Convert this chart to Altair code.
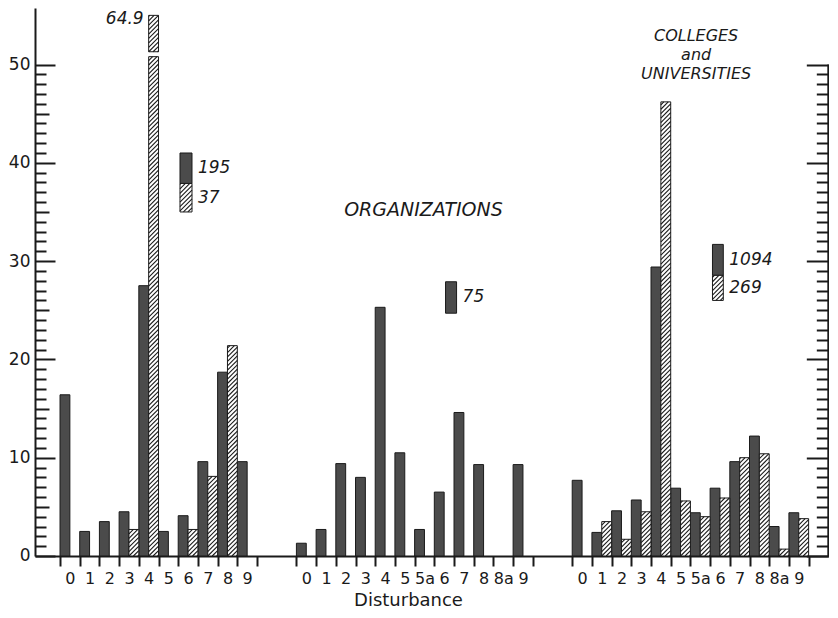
import json
import math
import altair as alt
import pandas as pd

# ---------------- data ----------------
G1_CATS = ["0", "1", "2", "3", "4", "5", "6", "7", "8", "9"]
G1_DARK = [16.4, 2.5, 3.5, 4.5, 27.5, 2.5, 4.1, 9.6, 18.7, 9.6]
G1_HATCH = [None, None, None, 2.7, 64.9, None, 2.7, 8.1, 21.4, None]
G1_N = [195, 37]

ORG_CATS = ["0", "1", "2", "3", "4", "5", "5a", "6", "7", "8", "8a", "9"]
ORG_DARK = [1.3, 2.7, 9.4, 8.0, 25.3, 10.5, 2.7, 6.5, 14.6, 9.3, None, 9.3]
ORG_N = [75]

COL_CATS = ["0", "1", "2", "3", "4", "5", "5a", "6", "7", "8", "8a", "9"]
COL_DARK = [7.7, 2.4, 4.6, 5.7, 29.4, 6.9, 4.4, 6.9, 9.6, 12.2, 3.0, 4.4]
COL_HATCH = [None, 3.5, 1.7, 4.5, 46.2, 5.6, 4.0, 5.9, 10.0, 10.4, 0.7, 3.8]
COL_N = [1094, 269]

ORG_LABEL = "ORGANIZATIONS"
COL_LABEL = "COLLEGES\nand\nUNIVERSITIES"
X_TITLE = "Disturbance"

# ---------------- layout / style constants ----------------
STEP = 19.7          # px per category
PXU = 9.83           # px per y unit
Y_MAX = 55.75
HEIGHT = round(Y_MAX * PXU)
GAP = 2              # empty category slots between groups
PAD_L, PAD_R = 1.27, 1.0
HALF = 0.5
CLIP_TOP = 55.0      # where the broken bar is cut off
BREAK = (50.8, 51.3)
HATCH_GAP = 0.45
K = STEP / PXU       # y units per x unit for 45 degree hatch
INK = "#1a1a1a"
DARK = "#4b4b4b"
FONT = "DejaVu Sans"

GROUPS = [(G1_CATS, G1_DARK, G1_HATCH), (ORG_CATS, ORG_DARK, None), (COL_CATS, COL_DARK, COL_HATCH)]
OFFS = []
_o = 0
for cats, _, _ in GROUPS:
    OFFS.append(_o)
    _o += len(cats) + GAP
X_END = OFFS[-1] + len(GROUPS[-1][0])
X_MIN, X_MAX = -PAD_L, X_END + PAD_R
WIDTH = (X_MAX - X_MIN) * STEP

rows = []
for g, (cats, dark, hatch) in enumerate(GROUPS):
    for i, c in enumerate(cats):
        for s, vals, off in (("dark", dark, 0.0), ("hatch", hatch, HALF)):
            if vals is None or vals[i] is None or vals[i] <= 0:
                continue
            v = vals[i]
            segs = [(0, BREAK[0]), (BREAK[1], CLIP_TOP)] if v > CLIP_TOP else [(0, v)]
            for lo, hi in segs:
                x = OFFS[g] + i + off
                rows.append(dict(group=g, cat=c, series=s, value=v, x=x, x2=x + HALF,
                                 y=lo, y2=hi, broken=bool(v > CLIP_TOP)))
pieces = pd.DataFrame(rows)

# legend keys (position in group-local category units)
KEY_POS = [(0, 6.09, 6.70, [41.0, 37.9, 35.0], G1_N),
           (1, 7.57, 8.13, [27.9, 24.7], ORG_N),
           (2, 7.12, 7.67, [31.7, 28.55, 26.0], COL_N)]
krows = []
for g, xl, xh, b, ns in KEY_POS:
    for j, nval in enumerate(ns):
        krows.append(dict(series=["dark", "hatch"][j], x=OFFS[g] + xl, x2=OFFS[g] + xh,
                          y=b[j + 1], y2=b[j], n=str(nval)))
keys = pd.DataFrame(krows)

labels_df = pd.DataFrame([
    dict(x=OFFS[1] + 6.45, y=35.2, text=ORG_LABEL, size=19),
    dict(x=OFFS[2] + 6.29, y=52.9, text=COL_LABEL, size=16),
])


def hatch_lines(rects):
    out = []
    for xa, xb, ya, yb in rects:
        span = (xb - xa) * K
        k0 = math.floor((ya - span) / HATCH_GAP)
        k1 = math.ceil(yb / HATCH_GAP)
        for k in range(k0, k1 + 1):
            y0 = k * HATCH_GAP
            lo = max(y0, ya)
            hi = min(y0 + span, yb)
            if hi - lo < 1e-6:
                continue
            out.append(dict(x=xa + (lo - y0) / K, x2=xa + (hi - y0) / K, y=lo, y2=hi))
    return pd.DataFrame(out)


hp = pieces[pieces["series"] == "hatch"]
kh = keys[keys["series"] == "hatch"]
hatch_df = hatch_lines(list(zip(hp["x"], hp["x2"], hp["y"], hp["y2"])) +
                       list(zip(kh["x"], kh["x2"], kh["y"], kh["y2"])))

xs = alt.Scale(domain=[X_MIN, X_MAX], nice=False, zero=False, padding=0)
ys = alt.Scale(domain=[0, Y_MAX], nice=False, zero=True, padding=0)

# x axis: ticks at category boundaries, labels centred between them
tick_vals = []
lab = [""] * (X_END + 1)
for g, (cats, _, _) in enumerate(GROUPS):
    for i in range(len(cats) + 1):
        tick_vals.append(OFFS[g] + i)
        if i < len(cats):
            lab[OFFS[g] + i] = cats[i]
label_expr = f"{json.dumps(lab)}[datum.value]"

XAXIS = alt.Axis(values=tick_vals, labelExpr=label_expr, labelOffset=STEP / 2,
                 tickSize=10, tickWidth=2, tickColor=INK, domainColor=INK, domainWidth=2,
                 labelFont=FONT, labelFontSize=16, labelColor=INK, labelPadding=5,
                 labelOverlap=False, labelFlush=False, grid=False,
                 title=X_TITLE, titleFont=FONT, titleFontSize=18, titleFontWeight="normal",
                 titleColor=INK, titlePadding=5, titleX=373)
YAXIS = alt.Axis(orient="left", values=[0, 10, 20, 30, 40, 50], tickSize=0,
                 labelFont=FONT, labelFontSize=17, labelColor=INK, labelPadding=5,
                 domainColor=INK, domainWidth=2, grid=False, title=None)


def X(field):
    return alt.X(field, scale=xs, axis=XAXIS)


def Y(field, axis=None):
    return alt.Y(field, scale=ys, axis=axis)


def rect_layer(df, series, fill, yaxis=None):
    return alt.Chart(df).transform_filter(f"datum.series == '{series}'").mark_rect(
        fill=fill, stroke=INK, strokeWidth=1).encode(
        x=X("x:Q"), x2="x2:Q", y=Y("y:Q", yaxis), y2="y2:Q")


def tick_layer(vals, orient, size):
    return alt.Chart(pd.DataFrame({"v": vals})).mark_point(opacity=0).encode(
        y=Y("v:Q", alt.Axis(
            orient=orient, values=vals, tickSize=size, offset=-size, labels=False,
            domain=False, grid=False, ticks=True, tickColor=INK, tickWidth=2, title=None)))


layers = [
    rect_layer(pieces, "dark", DARK, YAXIS),
    rect_layer(pieces, "hatch", "white"),
    rect_layer(keys, "dark", DARK),
    rect_layer(keys, "hatch", "white"),
    alt.Chart(hatch_df).mark_rule(stroke=INK, strokeWidth=1.1).encode(
        x=X("x:Q"), x2="x2:Q", y=Y("y:Q"), y2="y2:Q"),
    alt.Chart(keys).transform_calculate(ymid="(datum.y + datum.y2) / 2").mark_text(
        font=FONT, fontSize=17, fontStyle="italic", align="left", baseline="middle",
        color=INK, dx=6).encode(x=X("x2:Q"), y=Y("ymid:Q"), text="n:N"),
    alt.Chart(labels_df).mark_text(
        font=FONT, fontStyle="italic", align="center", baseline="middle",
        color=INK, lineBreak="\n", lineHeight=19).encode(
        x=X("x:Q"), y=Y("y:Q"), text="text:N",
        size=alt.Size("size:Q", scale=None, legend=None)),
    alt.Chart(pieces).transform_filter(f"datum.broken && datum.y2 == {CLIP_TOP}").mark_text(
        font=FONT, fontSize=17, fontStyle="italic", align="right", baseline="middle",
        color=INK, dx=-5, dy=4).encode(
        x=X("x:Q"), y=Y("y2:Q"), text=alt.Text("value:Q", format=".1f")),
    alt.Chart(pd.DataFrame({"xr": [X_MAX], "lo": [0], "hi": [50]})).mark_rule(
        stroke=INK, strokeWidth=2).encode(x=X("xr:Q"), y=Y("lo:Q"), y2="hi:Q"),
    tick_layer(list(range(0, 51, 10)), "left", 20),
    tick_layer(list(range(5, 50, 10)), "left", 14),
    tick_layer([v for v in range(0, 51) if v % 5], "left", 11),
    tick_layer(list(range(0, 51, 10)), "right", 22),
    tick_layer([v for v in range(0, 51) if v % 10], "right", 12),
]

chart = alt.layer(*layers).resolve_axis(y="independent").properties(
    width=WIDTH, height=HEIGHT, padding=0, background="white"
).configure_view(stroke=None)

chart.save("out.html", embed_options={"renderer": "svg", "actions": False})
